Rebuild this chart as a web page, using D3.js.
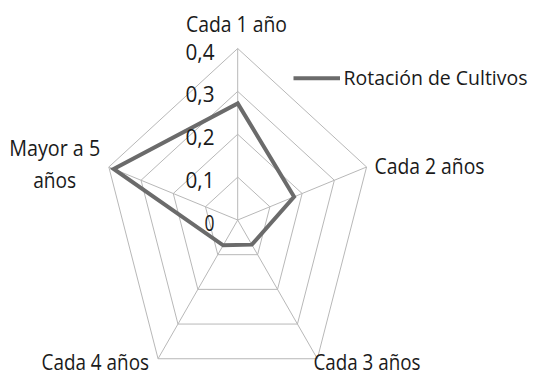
<!DOCTYPE html>
<html><head><meta charset="utf-8">
<script src="https://cdn.jsdelivr.net/npm/d3@7"></script>
<style>
html,body{margin:0;padding:0;background:#fff;}
text{font-family:"Liberation Sans Narrow","Open Sans",Lato,sans-serif;fill:#1a1a1a;}
</style></head>
<body>
<svg id="c" width="536" height="375"></svg>
<script>
const categories = ["Cada 1 año", "Cada 2 años", "Cada 3 años", "Cada 4 años", "Mayor a 5 años"];
const seriesName = "Rotación de Cultivos";
const values = [0.272, 0.175, 0.071, 0.073, 0.385];
const tickValues = [0, 0.1, 0.2, 0.3, 0.4];
const tickLabels = ["0", "0,1", "0,2", "0,3", "0,4"];

const svg = d3.select("#c");
const cx = 237.7, cy = 220, Rx = 135.5, Ry = 171.5;
const fs = 22;
const r = d3.scaleLinear().domain([0, 0.4]).range([0, 1]);
const ang = d3.scaleLinear().domain([0, categories.length]).range([0, 2 * Math.PI]);
const px = (i, v) => cx + Rx * r(v) * Math.sin(ang(i));
const py = (i, v) => cy - Ry * r(v) * Math.cos(ang(i));
const idx = d3.range(categories.length);

// grid rings
tickValues.filter(t => t > 0).forEach(t => {
  svg.append("path")
    .attr("d", d3.line()(idx.map(i => [px(i, t), py(i, t)])) + "Z")
    .attr("fill", "none").attr("stroke", "#b8b8b8").attr("stroke-width", 1);
});
// spokes
idx.forEach(i => {
  svg.append("line")
    .attr("x1", cx).attr("y1", cy)
    .attr("x2", px(i, 0.4)).attr("y2", py(i, 0.4))
    .attr("stroke", "#b8b8b8").attr("stroke-width", 1);
});

// data line
svg.append("path")
  .attr("d", d3.line()(idx.map(i => [px(i, values[i]), py(i, values[i])])) + "Z")
  .attr("fill", "none").attr("stroke", "#6b6b6b").attr("stroke-width", 4)
  .attr("stroke-linejoin", "miter");

// tick labels
const tickW = {"0": 10, "0,1": 29, "0,2": 29, "0,3": 29, "0,4": 29};
tickValues.forEach((t, k) => {
  svg.append("text")
    .attr("x", 214.5).attr("y", cy - Ry * r(t) + 11)
    .attr("text-anchor", "end")
    .attr("font-size", fs)
    .attr("textLength", tickW[tickLabels[k]]).attr("lengthAdjust", "spacingAndGlyphs")
    .text(tickLabels[k]);
});

// category labels
const labelLayout = [
  {lines: ["Cada 1 año"], x: 186, y: [31.5], w: [101], anchor: "start"},
  {lines: ["Cada 2 años"], x: 374.5, y: [173.5], w: [110], anchor: "start"},
  {lines: ["Cada 3 años"], x: 313.5, y: [370], w: [107], anchor: "start"},
  {lines: ["Cada 4 años"], x: 41.5, y: [370], w: [107.5], anchor: "start"},
  {lines: ["Mayor a 5", "años"], x: 54.7, y: [155.5, 187.5], w: [91, 43], anchor: "middle"}
];
labelLayout.forEach((L, i) => {
  L.lines.forEach((s, j) => {
    svg.append("text")
      .attr("x", L.x).attr("y", L.y[j])
      .attr("text-anchor", L.anchor)
      .attr("font-size", fs)
      .attr("textLength", L.w[j]).attr("lengthAdjust", "spacingAndGlyphs")
      .text(s);
  });
});

// legend
svg.append("line")
  .attr("x1", 293.5).attr("x2", 340).attr("y1", 78.3).attr("y2", 78.3)
  .attr("stroke", "#6b6b6b").attr("stroke-width", 4);
svg.append("text")
  .attr("x", 343.5).attr("y", 85)
  .attr("font-size", 19.5)
  .attr("textLength", 184).attr("lengthAdjust", "spacingAndGlyphs")
  .text(seriesName);
</script>
</body></html>
